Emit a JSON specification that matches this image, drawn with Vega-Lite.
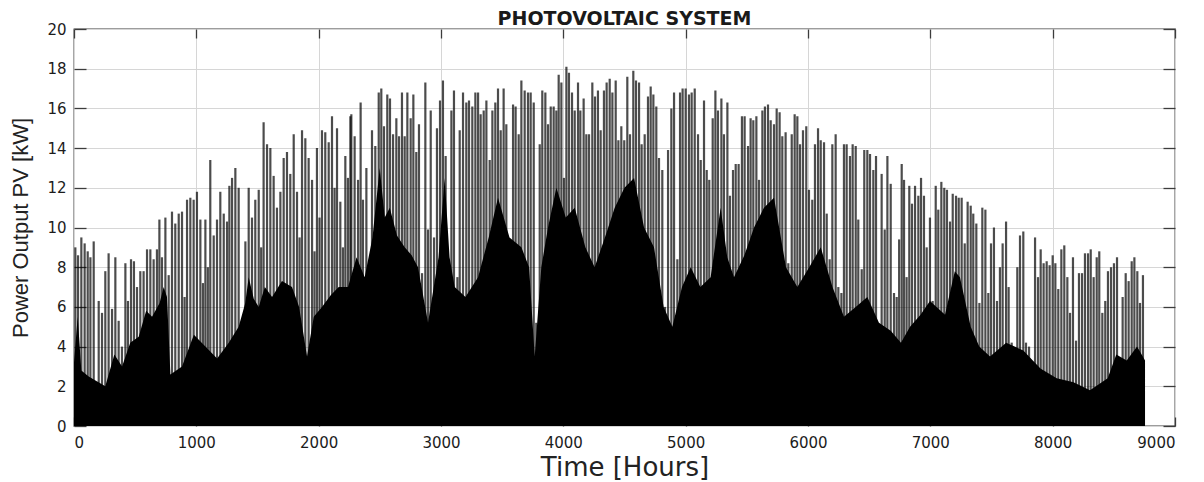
{
  "$schema": "https://vega.github.io/schema/vega-lite/v6.json",
  "width": 1101,
  "height": 397,
  "autosize": {"type": "none"},
  "padding": {"left": 74, "top": 29, "right": 29, "bottom": 56},
  "background": "white",
  "title": {"text": "PHOTOVOLTAIC SYSTEM", "font": "DejaVu Sans", "fontSize": 19, "fontWeight": "bold", "color": "#1a1a1a", "offset": 0, "dy": 7},
  "config": {
    "view": {"stroke": "#3c3c3c", "strokeWidth": 1.3},
    "axis": {"gridColor": "#d6d6d6", "gridWidth": 1, "domain": false, "tickColor": "#3c3c3c", "tickWidth": 1.3, "labelFont": "DejaVu Sans", "labelFontSize": 15, "labelColor": "#1c1c1c", "format": "d", "titleFont": "Liberation Sans", "titleFontWeight": "normal", "titleColor": "#222"}
  },
  "datasets": {
    "days": [
      {"h":11,"p":9.0},{"h":33,"p":8.6},{"h":60,"p":9.5},{"h":87,"p":9.2},{"h":112,"p":8.8},{"h":134,"p":8.5},{"h":161,"p":9.3},{"h":202,"p":6.3},{"h":229,"p":5.7},{"h":256,"p":7.8},{"h":283,"p":8.7},{"h":311,"p":5.9},{"h":338,"p":8.5},{"h":365,"p":5.3},{"h":392,"p":4.0},{"h":420,"p":8.2},{"h":441,"p":6.3},{"h":466,"p":8.4},{"h":490,"p":8.3},{"h":515,"p":7.0},{"h":542,"p":7.8},{"h":569,"p":7.8},{"h":597,"p":8.9},{"h":624,"p":8.9},{"h":651,"p":8.4},{"h":678,"p":8.9},{"h":698,"p":10.4},{"h":719,"p":8.5},{"h":747,"p":10.5},{"h":774,"p":7.6},{"h":801,"p":10.8},{"h":828,"p":10.2},{"h":856,"p":10.7},{"h":883,"p":10.8},{"h":904,"p":6.5},{"h":924,"p":11.4},{"h":951,"p":11.5},{"h":978,"p":11.4},{"h":1005,"p":11.8},{"h":1033,"p":10.4},{"h":1054,"p":7.2},{"h":1074,"p":10.4},{"h":1094,"p":8.0},{"h":1114,"p":13.4},{"h":1142,"p":9.6},{"h":1169,"p":10.4},{"h":1196,"p":11.8},{"h":1224,"p":10.7},{"h":1251,"p":10.3},{"h":1270,"p":12.1},{"h":1292,"p":12.5},{"h":1319,"p":13.0},{"h":1346,"p":12.0},{"h":1373,"p":5.1},{"h":1401,"p":9.3},{"h":1428,"p":12.0},{"h":1455,"p":10.5},{"h":1482,"p":11.4},{"h":1510,"p":11.9},{"h":1530,"p":9.0},{"h":1550,"p":15.3},{"h":1578,"p":14.2},{"h":1605,"p":14.0},{"h":1632,"p":12.6},{"h":1659,"p":11.0},{"h":1687,"p":11.8},{"h":1714,"p":13.5},{"h":1741,"p":13.8},{"h":1768,"p":12.7},{"h":1796,"p":14.7},{"h":1823,"p":11.8},{"h":1844,"p":9.5},{"h":1864,"p":14.9},{"h":1891,"p":14.5},{"h":1918,"p":13.5},{"h":1946,"p":12.4},{"h":1966,"p":8.8},{"h":1986,"p":14.0},{"h":2007,"p":10.5},{"h":2027,"p":14.9},{"h":2054,"p":14.8},{"h":2082,"p":14.3},{"h":2109,"p":15.6},{"h":2130,"p":12.0},{"h":2150,"p":15.0},{"h":2177,"p":11.3},{"h":2198,"p":9.0},{"h":2218,"p":13.6},{"h":2239,"p":12.5},{"h":2259,"p":15.6},
      {"h":2267,"p":15.7},{"h":2294,"p":14.6},{"h":2322,"p":12.4},{"h":2343,"p":16.3},{"h":2362,"p":11.4},{"h":2390,"p":13.0},{"h":2417,"p":7.9},{"h":2436,"p":14.9},{"h":2463,"p":14.1},{"h":2491,"p":16.8},{"h":2512,"p":17.0},{"h":2534,"p":15.1},{"h":2561,"p":16.7},{"h":2583,"p":16.5},{"h":2608,"p":14.7},{"h":2635,"p":15.5},{"h":2657,"p":14.6},{"h":2681,"p":16.8},{"h":2703,"p":14.6},{"h":2725,"p":16.8},{"h":2752,"p":15.5},{"h":2774,"p":16.7},{"h":2798,"p":13.8},{"h":2820,"p":15.2},{"h":2845,"p":7.7},{"h":2872,"p":17.3},{"h":2894,"p":9.9},{"h":2916,"p":15.9},{"h":2943,"p":9.5},{"h":2967,"p":15.0},{"h":2992,"p":16.4},{"h":3016,"p":17.4},{"h":3038,"p":13.6},{"h":3057,"p":7.4},{"h":3085,"p":15.9},{"h":3106,"p":16.9},{"h":3134,"p":7.5},{"h":3153,"p":14.9},{"h":3180,"p":16.8},{"h":3207,"p":16.3},{"h":3229,"p":16.4},{"h":3256,"p":16.1},{"h":3281,"p":16.8},{"h":3303,"p":16.8},{"h":3324,"p":15.7},{"h":3349,"p":15.9},{"h":3371,"p":16.4},{"h":3398,"p":13.4},{"h":3420,"p":15.9},{"h":3444,"p":16.3},{"h":3466,"p":17.0},{"h":3488,"p":14.9},{"h":3512,"p":17.0},{"h":3534,"p":15.2},{"h":3561,"p":7.2},{"h":3589,"p":16.2},{"h":3610,"p":16.1},{"h":3635,"p":14.7},{"h":3657,"p":17.4},{"h":3684,"p":16.9},{"h":3711,"p":16.8},{"h":3733,"p":16.8},{"h":3758,"p":16.3},{"h":3779,"p":5.2},{"h":3807,"p":14.2},{"h":3828,"p":16.9},{"h":3853,"p":16.8},{"h":3875,"p":15.2},{"h":3897,"p":16.1},{"h":3921,"p":16.1},{"h":3943,"p":15.9},{"h":3962,"p":17.7},{"h":3984,"p":17.3},{"h":4005,"p":12.5},{"h":4025,"p":18.1},{"h":4046,"p":17.8},{"h":4071,"p":16.8},{"h":4093,"p":15.9},{"h":4120,"p":17.3},{"h":4139,"p":15.9},{"h":4166,"p":16.5},{"h":4188,"p":14.7},{"h":4210,"p":14.7},{"h":4237,"p":17.3},{"h":4259,"p":16.6},{"h":4283,"p":16.9},{"h":4305,"p":14.9},{"h":4332,"p":16.9},{"h":4354,"p":17.3},{"h":4379,"p":17.5},{"h":4401,"p":16.8},{"h":4428,"p":17.4},{"h":4450,"p":14.4},{"h":4474,"p":15.1},{"h":4498,"p":14.4},
      {"h":4523,"p":17.6},{"h":4545,"p":14.7},{"h":4572,"p":17.9},{"h":4594,"p":17.4},{"h":4619,"p":17.3},{"h":4640,"p":14.2},{"h":4665,"p":14.7},{"h":4692,"p":16.6},{"h":4714,"p":17.1},{"h":4736,"p":16.7},{"h":4760,"p":16.1},{"h":4782,"p":13.5},{"h":4809,"p":12.9},{"h":4831,"p":6.0},{"h":4856,"p":13.9},{"h":4883,"p":16.0},{"h":4905,"p":16.8},{"h":4932,"p":8.4},{"h":4954,"p":16.8},{"h":4975,"p":17.0},{"h":5000,"p":17.0},{"h":5027,"p":16.7},{"h":5049,"p":16.8},{"h":5074,"p":17.0},{"h":5101,"p":14.7},{"h":5123,"p":13.4},{"h":5150,"p":16.4},{"h":5172,"p":12.9},{"h":5193,"p":12.4},{"h":5221,"p":15.5},{"h":5243,"p":16.9},{"h":5264,"p":15.9},{"h":5292,"p":16.5},{"h":5313,"p":14.7},{"h":5341,"p":16.3},{"h":5362,"p":11.6},{"h":5387,"p":12.9},{"h":5409,"p":13.2},{"h":5433,"p":13.2},{"h":5460,"p":15.6},{"h":5482,"p":15.6},{"h":5510,"p":14.1},{"h":5531,"p":15.5},{"h":5553,"p":15.4},{"h":5578,"p":15.6},{"h":5600,"p":12.4},{"h":5627,"p":15.9},{"h":5648,"p":16.1},{"h":5673,"p":16.2},{"h":5695,"p":15.4},{"h":5722,"p":15.2},{"h":5744,"p":16.0},{"h":5768,"p":15.8},{"h":5790,"p":14.6},{"h":5817,"p":14.8},{"h":5839,"p":8.2},{"h":5867,"p":14.7},{"h":5891,"p":15.7},{"h":5913,"p":15.6},{"h":5935,"p":14.2},{"h":5959,"p":14.9},{"h":5986,"p":15.1},{"h":6008,"p":11.9},{"h":6035,"p":11.4},{"h":6057,"p":14.2},{"h":6082,"p":15.0},{"h":6104,"p":14.4},{"h":6131,"p":14.3},{"h":6153,"p":10.7},{"h":6177,"p":8.4},{"h":6199,"p":14.2},{"h":6226,"p":14.7},{"h":6248,"p":7.0},{"h":6273,"p":6.7},{"h":6294,"p":14.2},{"h":6316,"p":14.2},{"h":6343,"p":13.6},{"h":6365,"p":14.2},{"h":6390,"p":14.1},{"h":6411,"p":10.4},{"h":6439,"p":7.9},{"h":6460,"p":13.9},{"h":6485,"p":13.9},{"h":6507,"p":13.7},{"h":6534,"p":12.9},{"h":6556,"p":13.6},{"h":6580,"p":4.8},{"h":6602,"p":12.7},{"h":6627,"p":9.9},{"h":6649,"p":13.6},{"h":6676,"p":12.2},{"h":6703,"p":6.7},{"h":6725,"p":6.5},{"h":6745,"p":9.4},
      {"h":6766,"p":13.2},{"h":6785,"p":12.4},{"h":6806,"p":7.5},{"h":6828,"p":12.1},{"h":6850,"p":11.2},{"h":6875,"p":12.1},{"h":6902,"p":11.6},{"h":6924,"p":12.5},{"h":6948,"p":11.6},{"h":6970,"p":9.0},{"h":6997,"p":10.5},{"h":7019,"p":6.3},{"h":7044,"p":12.1},{"h":7065,"p":10.9},{"h":7090,"p":12.3},{"h":7114,"p":12.0},{"h":7136,"p":11.9},{"h":7161,"p":10.3},{"h":7183,"p":11.7},{"h":7210,"p":11.6},{"h":7232,"p":11.5},{"h":7256,"p":11.5},{"h":7281,"p":9.2},{"h":7305,"p":11.3},{"h":7330,"p":11.1},{"h":7351,"p":10.7},{"h":7376,"p":10.2},{"h":7401,"p":6.2},{"h":7425,"p":11.0},{"h":7450,"p":10.9},{"h":7474,"p":6.7},{"h":7496,"p":9.2},{"h":7520,"p":10.0},{"h":7545,"p":6.3},{"h":7569,"p":8.0},{"h":7591,"p":9.2},{"h":7619,"p":10.3},{"h":7640,"p":7.0},{"h":7665,"p":4.2},{"h":7687,"p":3.0},{"h":7711,"p":8.0},{"h":7733,"p":9.6},{"h":7760,"p":9.8},{"h":7782,"p":4.2},{"h":7807,"p":4.0},{"h":7831,"p":3.0},{"h":7856,"p":9.5},{"h":7880,"p":7.5},{"h":7902,"p":8.9},{"h":7926,"p":8.2},{"h":7951,"p":8.3},{"h":7975,"p":8.1},{"h":8000,"p":8.6},{"h":8022,"p":8.2},{"h":8046,"p":6.9},{"h":8071,"p":8.9},{"h":8095,"p":9.1},{"h":8120,"p":7.5},{"h":8142,"p":5.7},{"h":8166,"p":8.5},{"h":8191,"p":4.3},{"h":8215,"p":7.7},{"h":8240,"p":7.7},{"h":8264,"p":8.7},{"h":8289,"p":8.7},{"h":8311,"p":8.9},{"h":8335,"p":7.5},{"h":8360,"p":8.5},{"h":8381,"p":8.8},{"h":8406,"p":5.7},{"h":8430,"p":6.3},{"h":8452,"p":7.8},{"h":8477,"p":8.0},{"h":8501,"p":8.2},{"h":8526,"p":8.5},{"h":8550,"p":3.2},{"h":8572,"p":6.5},{"h":8597,"p":7.7},{"h":8621,"p":7.3},{"h":8646,"p":8.3},{"h":8668,"p":8.5},{"h":8692,"p":7.8},{"h":8714,"p":6.2},{"h":8738,"p":7.6}
    ],
    "base": [
      {"h":0,"b":3.2},{"h":30,"b":5.5},{"h":60,"b":2.8},{"h":120,"b":2.5},{"h":256,"b":2.0},{"h":330,"b":3.6},{"h":393,"b":3.0},{"h":460,"b":4.2},{"h":529,"b":4.5},{"h":590,"b":5.8},{"h":638,"b":5.5},{"h":700,"b":6.2},{"h":733,"b":7.0},{"h":760,"b":6.5},{"h":788,"b":2.6},{"h":883,"b":3.0},{"h":980,"b":4.6},{"h":1074,"b":4.0},{"h":1170,"b":3.4},{"h":1265,"b":4.2},{"h":1346,"b":5.0},{"h":1400,"b":6.2},{"h":1428,"b":7.5},{"h":1470,"b":6.4},{"h":1510,"b":6.0},{"h":1560,"b":7.0},{"h":1619,"b":6.5},{"h":1700,"b":7.3},{"h":1782,"b":7.0},{"h":1840,"b":6.0},{"h":1905,"b":3.5},{"h":1960,"b":5.5},{"h":2027,"b":6.0},{"h":2100,"b":6.6},{"h":2164,"b":7.0},
      {"h":2240,"b":7.0},{"h":2310,"b":8.5},{"h":2376,"b":7.5},{"h":2440,"b":9.5},{"h":2499,"b":13.0},{"h":2540,"b":10.5},{"h":2581,"b":11.0},{"h":2640,"b":9.6},{"h":2703,"b":9.0},{"h":2760,"b":8.6},{"h":2812,"b":8.0},{"h":2894,"b":5.2},{"h":2980,"b":8.5},{"h":3030,"b":12.5},{"h":3070,"b":8.5},{"h":3112,"b":7.0},{"h":3200,"b":6.5},{"h":3303,"b":7.5},{"h":3390,"b":9.5},{"h":3466,"b":11.5},{"h":3560,"b":9.5},{"h":3657,"b":9.0},{"h":3720,"b":8.0},{"h":3766,"b":3.5},{"h":3820,"b":8.0},{"h":3875,"b":10.0},{"h":3943,"b":12.0},{"h":4020,"b":10.5},{"h":4093,"b":11.0},{"h":4180,"b":9.0},{"h":4256,"b":8.0},{"h":4340,"b":9.5},{"h":4420,"b":11.0},
      {"h":4500,"b":12.0},{"h":4578,"b":12.5},{"h":4660,"b":10.0},{"h":4741,"b":9.0},{"h":4820,"b":6.0},{"h":4891,"b":5.0},{"h":4970,"b":7.0},{"h":5041,"b":8.0},{"h":5120,"b":7.0},{"h":5204,"b":7.5},{"h":5286,"b":11.0},{"h":5340,"b":8.5},{"h":5395,"b":7.5},{"h":5480,"b":8.6},{"h":5559,"b":10.0},{"h":5640,"b":11.0},{"h":5722,"b":11.5},{"h":5820,"b":8.0},{"h":5913,"b":7.0},{"h":6010,"b":8.0},{"h":6104,"b":9.0},{"h":6200,"b":7.0},{"h":6294,"b":5.5},{"h":6390,"b":6.0},{"h":6485,"b":6.5},{"h":6580,"b":5.2},{"h":6676,"b":4.8},
      {"h":6760,"b":4.2},{"h":6834,"b":5.0},{"h":6920,"b":5.6},{"h":6997,"b":6.3},{"h":7120,"b":5.6},{"h":7200,"b":7.8},{"h":7242,"b":7.5},{"h":7330,"b":5.0},{"h":7400,"b":4.0},{"h":7488,"b":3.5},{"h":7620,"b":4.2},{"h":7760,"b":3.8},{"h":7900,"b":2.9},{"h":8033,"b":2.4},{"h":8170,"b":2.2},{"h":8305,"b":1.8},{"h":8450,"b":2.4},{"h":8520,"b":3.6},{"h":8605,"b":3.3},{"h":8690,"b":4.0},{"h":8755,"b":3.3}
    ]
  },
  "resolve": {"axis": {"x": "independent", "y": "independent"}},
  "layer": [
    {
      "data": {"name": "base"},
      "mark": {"type": "area", "color": "#000", "interpolate": "linear"},
      "encoding": {
        "x": {"field": "h", "type": "quantitative", "scale": {"domain": [0, 9000], "nice": false},
              "axis": {"orient": "top", "values": [0,1000,2000,3000,4000,5000,6000,7000,8000,9000], "labels": false, "grid": false, "tickSize": -9, "title": null}},
        "y": {"field": "b", "type": "quantitative", "scale": {"domain": [0, 20], "nice": false},
              "axis": {"orient": "right", "values": [0,2,4,6,8,10,12,14,16,18,20], "labels": false, "grid": false, "tickSize": -12, "title": null}}
      }
    },
    {
      "mark": {"type": "rule", "color": "#1f3f6f", "strokeWidth": 0.8, "strokeDash": [2, 3]},
      "encoding": {
        "x": {"datum": 0, "type": "quantitative", "axis": null},
        "x2": {"datum": 8760},
        "y": {"datum": 1.05, "type": "quantitative", "axis": null}
      }
    },
    {
      "data": {"name": "days"},
      "mark": {"type": "rule", "color": "#000", "strokeWidth": 2.2, "opacity": 0.7},
      "encoding": {
        "x": {"field": "h", "type": "quantitative",
              "axis": {"orient": "bottom", "values": [0,1000,2000,3000,4000,5000,6000,7000,8000,9000], "grid": true, "tickSize": -9, "labelPadding": 18, "title": "Time [Hours]", "titleFont": "DejaVu Sans", "titleFontSize": 26, "titlePadding": 4}},
        "y": {"field": "p", "type": "quantitative",
              "axis": {"orient": "left", "values": [0,2,4,6,8,10,12,14,16,18,20], "grid": true, "tickSize": -12, "labelPadding": 20, "title": "Power Output PV [kW]", "titleFontSize": 22, "titlePadding": 14}},
        "y2": {"datum": 0}
      }
    }
  ]
}
